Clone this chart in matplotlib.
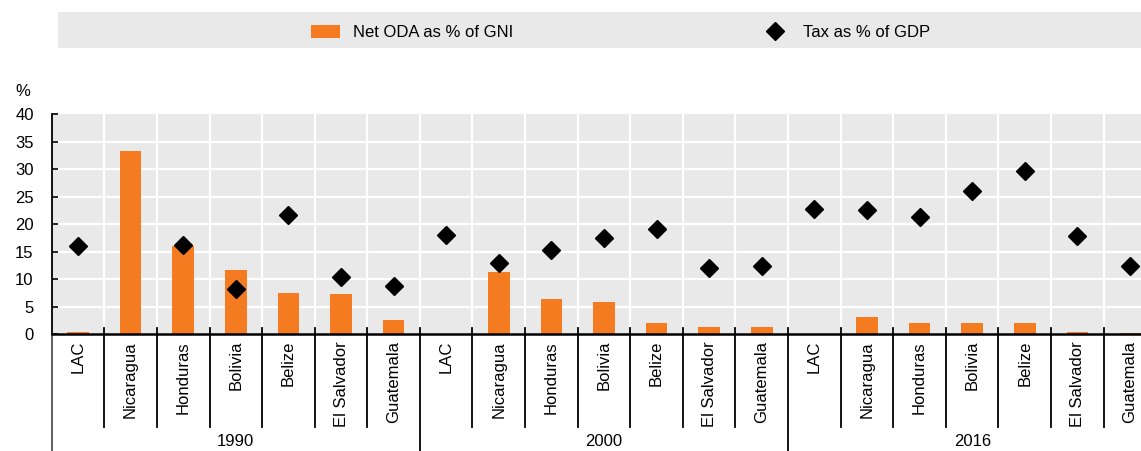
import numpy as np
import matplotlib
matplotlib.use("Agg")
import matplotlib.pyplot as plt
from matplotlib.patches import Rectangle
from matplotlib.lines import Line2D
import matplotlib.transforms as mtransforms

plt.rcParams['font.family'] = ['Liberation Sans', 'DejaVu Sans']

years = ['1990', '2000', '2016']
countries = ['LAC', 'Nicaragua', 'Honduras', 'Bolivia', 'Belize', 'El Salvador', 'Guatemala']

# net ODA as % of GNI, per year block
oda_1990 = [0.4, 33.4, 16.0, 11.7, 7.5, 7.4, 2.6]
oda_2000 = [0.1, 11.4, 6.5, 5.8, 2.0, 1.3, 1.3]
oda_2016 = [0.1, 3.2, 2.0, 2.0, 2.0, 0.4, 0.2]

# tax as % of GDP
tax_1990 = [16.1, np.nan, 16.2, 8.2, 21.7, 10.4, 8.8]
tax_2000 = [18.0, 12.9, 15.3, 17.6, 19.1, 12.0, 12.4]
tax_2016 = [22.7, 22.6, 21.4, 26.0, 29.7, 17.9, 12.5]

oda = oda_1990 + oda_2000 + oda_2016
tax = tax_1990 + tax_2000 + tax_2016
labels = countries * 3
n = len(labels)
x = np.arange(n)

orange = '#f47b20'
bg = '#e9e9e9'

W, H = 1141, 451
fig = plt.figure(figsize=(W/100, H/100), dpi=100)
# the last category runs a little past the right edge, as in the original
ax = fig.add_axes([51.7/W, (H-334.3)/H, 1104.6/W, 220/H])
ax.set_facecolor(bg)

ax.bar(x, oda, width=0.41, color=orange, zorder=3)
ax.plot(x, tax, linestyle='none', marker='D', color='black', markersize=9.5, zorder=4)

ax.set_xlim(-0.5, n - 0.5)
ax.set_ylim(0, 40)
ax.set_yticks(np.arange(0, 41, 5))
ax.tick_params(axis='y', labelsize=12, direction='in', length=4.5, width=1.2,
               color='black', pad=13)
ax.set_xticks([])

# grid
for v in range(5, 40, 5):
    ax.axhline(v, color='white', lw=1.6, zorder=1)
for b in np.arange(0.5, n - 0.5, 1):
    ax.axvline(b, color='white', lw=1.6, zorder=1)

for s in ['top', 'right']:
    ax.spines[s].set_visible(False)
ax.spines['left'].set_linewidth(1.3)
ax.spines['bottom'].set_linewidth(1.8)
ax.spines['left'].set_zorder(5)
ax.spines['bottom'].set_zorder(5)

trans = mtransforms.blended_transform_factory(ax.transData, ax.transAxes)
# separators below the axis
for b in np.arange(0.5, n - 0.5, 1):
    if (b + 0.5) % 7 == 0:
        ax.plot([b, b], [0.027, -0.53], transform=trans, color='black', lw=1.3, clip_on=False, zorder=6)
    else:
        ax.plot([b, b], [0.027, -0.422], transform=trans, color='black', lw=1.3, clip_on=False, zorder=6)
ax.plot([-0.5, -0.5], [0, -0.53], transform=trans, color='#333333', lw=1.1, clip_on=False)

for i, lab in enumerate(labels):
    ax.text(i, -0.03, lab, transform=trans, rotation=90, ha='center', va='top', fontsize=12)

for g, yr in enumerate(years):
    ax.text(g * 7 + 3, -0.485, yr, transform=trans, ha='center', va='center', fontsize=12)

fig.text(15/W, (H-92)/H, '%', fontsize=12, ha='left', va='center')

# legend band
fig.patches.append(Rectangle((58/W, (H-47.5)/H), (W-58)/W, 35/H,
                             transform=fig.transFigure, facecolor=bg, edgecolor='none', zorder=0))
handles = [Rectangle((0, 0), 1, 1, facecolor=orange, edgecolor='none'),
           Line2D([], [], linestyle='none', marker='D', color='black', markersize=9)]
fig.legend(handles, ['Net ODA as % of GNI', 'Tax as % of GDP'], loc='center left',
           bbox_to_anchor=(311/W, (H-32.5)/H), ncol=2, frameon=False,
           fontsize=12, columnspacing=14.8, handlelength=1.74, handleheight=0.85,
           handletextpad=0.8, borderpad=0, borderaxespad=0)

fig.savefig('out.png', dpi=100)
